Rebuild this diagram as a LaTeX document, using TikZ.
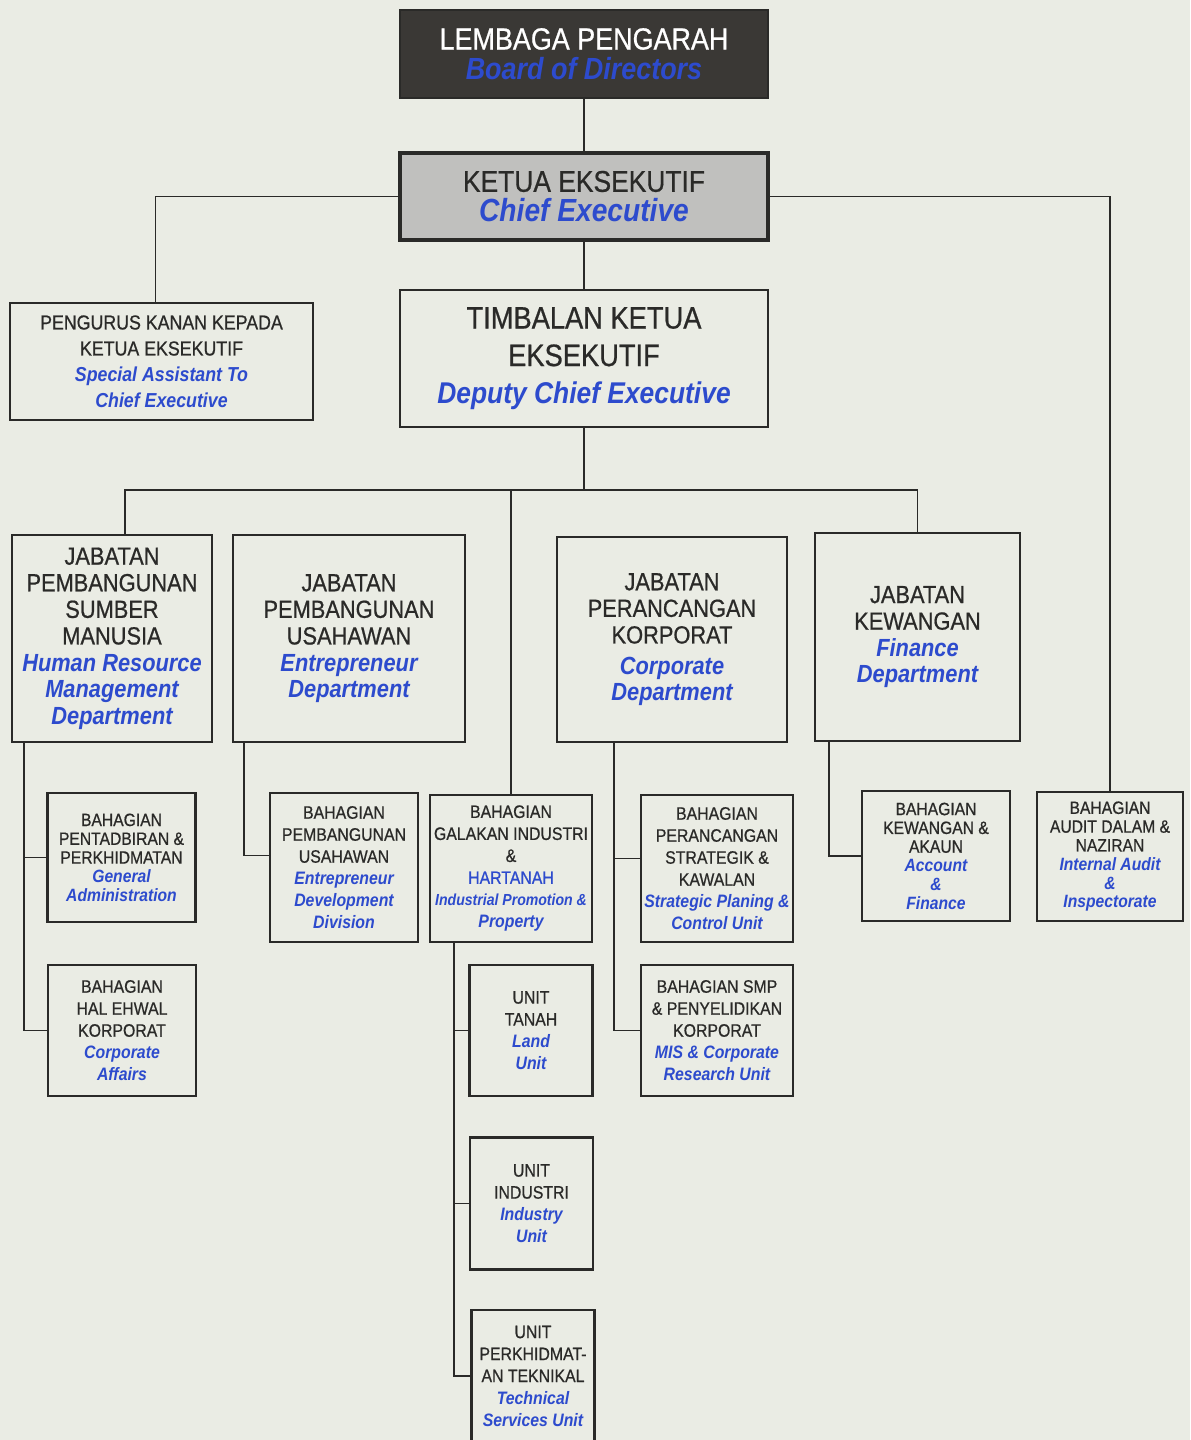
\documentclass[tikz,border=0pt]{standalone}
\usepackage{fontspec}
\setmainfont{Liberation Sans}[FakeStretch=0.88, UprightFeatures={FakeBold=0.7}]
\usepackage{xcolor}
\definecolor{paper}{RGB}{234,236,228}
\definecolor{ink}{RGB}{42,42,40}
\definecolor{engblue}{RGB}{45,75,205}
\definecolor{boardfill}{RGB}{58,56,53}
\definecolor{chieffill}{RGB}{192,192,190}
\newcommand{\engl}[1]{{\color{engblue}\bfseries\itshape #1}}

\begin{document}
\begin{tikzpicture}[x=0.5pt,y=-0.5pt]
\tikzstyle{orgbox}=[draw=ink, line width=1.1pt, align=center, inner sep=0pt, text=ink]
\tikzstyle{topbox}=[orgbox, minimum width=184pt]
\tikzstyle{deptbox}=[orgbox, minimum width=101pt, minimum height=103.5pt, font=\fontsize{12.4}{13.3}\selectfont]
\tikzstyle{smallbox}=[orgbox, minimum width=74pt, minimum height=65.5pt, font=\fontsize{9}{11}\selectfont]
\tikzstyle{tightbox}=[smallbox, font=\fontsize{8.9}{9.4}\selectfont]
\tikzstyle{unitbox}=[smallbox, minimum width=61.5pt, minimum height=66pt]
\tikzstyle{link}=[draw=ink, line width=0.9pt]
\fill[paper] (0,0) rectangle (1190,1440);
\useasboundingbox (0,0) rectangle (1190,1440);

\node[topbox, fill=boardfill, text=white, minimum height=44pt, font=\fontsize{15.3}{15}\selectfont] (board) at (584,54) {LEMBAGA PENGARAH\\\engl{Board of Directors}};
\node[topbox, fill=chieffill, line width=1.7pt, minimum height=43.5pt, font=\fontsize{15}{15}\selectfont] (chief) at (584,196.5) {KETUA EKSEKUTIF\\\engl{\fontsize{16}{15}\selectfont Chief Executive}};
\node[topbox, minimum height=68.5pt, font=\fontsize{15.5}{18.75}\selectfont] (deputy) at (584,358.5) {TIMBALAN KETUA\\EKSEKUTIF\\\engl{\fontsize{15}{18.75}\selectfont Deputy Chief Executive}};
\node[orgbox, minimum width=151.5pt, minimum height=58.5pt, font=\fontsize{10.1}{13}\selectfont] (spa) at (161.5,361.5) {PENGURUS KANAN KEPADA\\KETUA EKSEKUTIF\\\engl{Special Assistant To}\\\engl{Chief Executive}};

\node[deptbox, minimum width=100pt] (hrd) at (112,638.5) {JABATAN\\PEMBANGUNAN\\SUMBER\\MANUSIA\\\engl{Human Resource}\\\engl{Management}\\\engl{Department}};
\node[deptbox, minimum width=116pt] (entd) at (349,638.5) {JABATAN\\PEMBANGUNAN\\USAHAWAN\\\engl{Entrepreneur}\\\engl{Department}};
\node[deptbox, minimum width=115pt, minimum height=102.5pt] (corpd) at (672,639.5) {JABATAN\\PERANCANGAN\\KORPORAT\\[2pt]\engl{Corporate}\\\engl{Department}};
\node[deptbox, minimum width=102.5pt, minimum height=104pt] (find) at (917.5,637) {JABATAN\\KEWANGAN\\\engl{Finance}\\\engl{Department}};

\node[tightbox, minimum height=64.5pt] (genadm) at (121.5,857.5) {BAHAGIAN\\PENTADBIRAN \&\\PERKHIDMATAN\\\engl{General}\\\engl{Administration}};
\node[smallbox] (corpaff) at (122,1030.5) {BAHAGIAN\\HAL EHWAL\\KORPORAT\\\engl{Corporate}\\\engl{Affairs}};
\node[smallbox, minimum height=74.5pt] (entdev) at (344,867.5) {BAHAGIAN\\PEMBANGUNAN\\USAHAWAN\\\engl{Entrepreneur}\\\engl{Development}\\\engl{Division}};
\node[smallbox, minimum width=81pt, minimum height=73.5pt] (galakan) at (511,868.5) {BAHAGIAN\\GALAKAN INDUSTRI\\\&\\{\color{engblue}HARTANAH}\\\engl{\fontsize{8}{11}\selectfont Industrial Promotion \&}\\\engl{Property}};
\node[unitbox, minimum height=65.5pt] (land) at (531,1030.5) {UNIT\\TANAH\\\engl{Land}\\\engl{Unit}};
\node[unitbox] (industry) at (531.5,1203.5) {UNIT\\INDUSTRI\\\engl{Industry}\\\engl{Unit}};
\node[unitbox] (techsvc) at (533,1376) {UNIT\\PERKHIDMAT-\\AN TEKNIKAL\\\engl{Technical}\\\engl{Services Unit}};
\node[smallbox, minimum width=76pt, minimum height=73.5pt] (strat) at (717,868.5) {BAHAGIAN\\PERANCANGAN\\STRATEGIK \&\\KAWALAN\\\engl{Strategic Planing \&}\\\engl{Control Unit}};
\node[smallbox, minimum width=76pt] (smp) at (717,1030.5) {BAHAGIAN SMP\\\& PENYELIDIKAN\\KORPORAT\\\engl{MIS \& Corporate}\\\engl{Research Unit}};
\node[tightbox, minimum height=65pt] (kew) at (936,856) {BAHAGIAN\\KEWANGAN \&\\AKAUN\\\engl{Account}\\\engl{\&}\\\engl{Finance}};
\node[tightbox, minimum width=73pt, minimum height=64.5pt] (audit) at (1110,856.5) {BAHAGIAN\\AUDIT DALAM \&\\NAZIRAN\\\engl{Internal Audit}\\\engl{\&}\\\engl{Inspectorate}};

\coordinate (bus) at (584,490);

\draw[link] (board) -- (chief);
\draw[link] (chief) -- (deputy);
\draw[link] (chief.west) -| ([xshift=-3pt]spa.north);
\draw[link] (chief.east) -| (audit.north);
\draw[link] (deputy) -- (bus);
\draw[link] ([xshift=6.5pt]hrd.north) |- (bus) -| (find.north);
\draw[link] (bus) -| (galakan.north);

\draw[link] ([xshift=6.5pt]hrd.south west) |- (genadm.west);
\draw[link] ([xshift=6.5pt]hrd.south west) |- (corpaff.west);
\draw[link] ([xshift=6pt]entd.south west) |- ([yshift=6pt]entdev.west);
\draw[link] ([xshift=12.5pt]galakan.south west) |- (land.west);
\draw[link] ([xshift=12.5pt]galakan.south west) |- (industry.west);
\draw[link] ([xshift=12.5pt]galakan.south west) |- (techsvc.west);
\draw[link] ([xshift=29pt]corpd.south west) |- ([yshift=5pt]strat.west);
\draw[link] ([xshift=29pt]corpd.south west) |- (smp.west);
\draw[link] ([xshift=7.5pt]find.south west) |- (kew.west);
\end{tikzpicture}
\end{document}
